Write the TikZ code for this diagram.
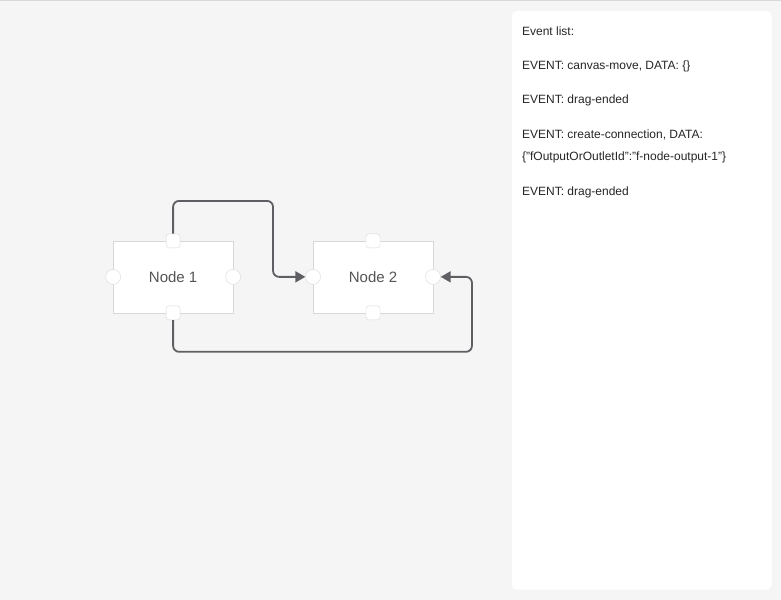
\documentclass[tikz,border=0pt]{standalone}
\usepackage{fontspec}
\setmainfont{Liberation Sans}
\usetikzlibrary{arrows.meta}
\definecolor{bg}{HTML}{F5F5F5}
\definecolor{bd}{HTML}{D8D8D8}
\definecolor{ln}{HTML}{5F5F63}
\definecolor{tx}{HTML}{555555}
\begin{document}
\begin{tikzpicture}[x=1pt,y=-1pt,
  box/.style={draw=bd,fill=white,minimum width=120pt,minimum height=72pt,inner sep=0,text=tx,font=\fontsize{15}{15}\selectfont},
  circ/.style={circle,draw=bd,fill=white,minimum size=15pt,inner sep=0},
  sq/.style={rectangle,rounded corners=3pt,draw=bd,fill=white,minimum size=14pt,inner sep=0},
  conn/.style={draw=ln,line width=1.8pt,rounded corners=6pt,-{Triangle[length=10pt,width=11pt]}},
  ev/.style={anchor=base west,text=black!85,font=\fontsize{12}{12}\selectfont,inner sep=0}]
\fill[bg] (0,0) rectangle (781,600);
\draw[bd] (0,0.5) -- (781,0.5);
\fill[white,rounded corners=5pt] (512,11) rectangle (772,590);
\node[box] (n1) at (173,277) {Node 1};
\node[box] (n2) at (373,277) {Node 2};
\node[circ] (n1l) at (113,277) {};
\node[circ] (n1r) at (233,277) {};
\node[sq] (n1t) at (173,241) {};
\node[sq] (n1b) at (173,313) {};
\node[circ] (n2l) at (313,277) {};
\node[circ] (n2r) at (433,277) {};
\node[sq] (n2t) at (373,241) {};
\node[sq] (n2b) at (373,313) {};
\draw[conn] (n1t.north) -- (173,201) -- (273,201) -- (273,277) -- (n2l.west);
\draw[conn] (n1b.south) -- (173,352) -- (472,352) -- (472,277) -- (n2r.east);
\node[ev] (e0) at (522,36) {Event list:};
\node[ev] (e1) at (522,70) {EVENT: canvas-move, DATA: \{\}};
\node[ev] (e2) at (522,104) {EVENT: drag-ended};
\node[ev] (e3) at (522,139) {EVENT: create-connection, DATA:};
\node[ev] (e4) at (522,161) {\{"fOutputOrOutletId":"f-node-output-1"\}};
\node[ev] (e5) at (522,196) {EVENT: drag-ended};
\end{tikzpicture}
\end{document}
